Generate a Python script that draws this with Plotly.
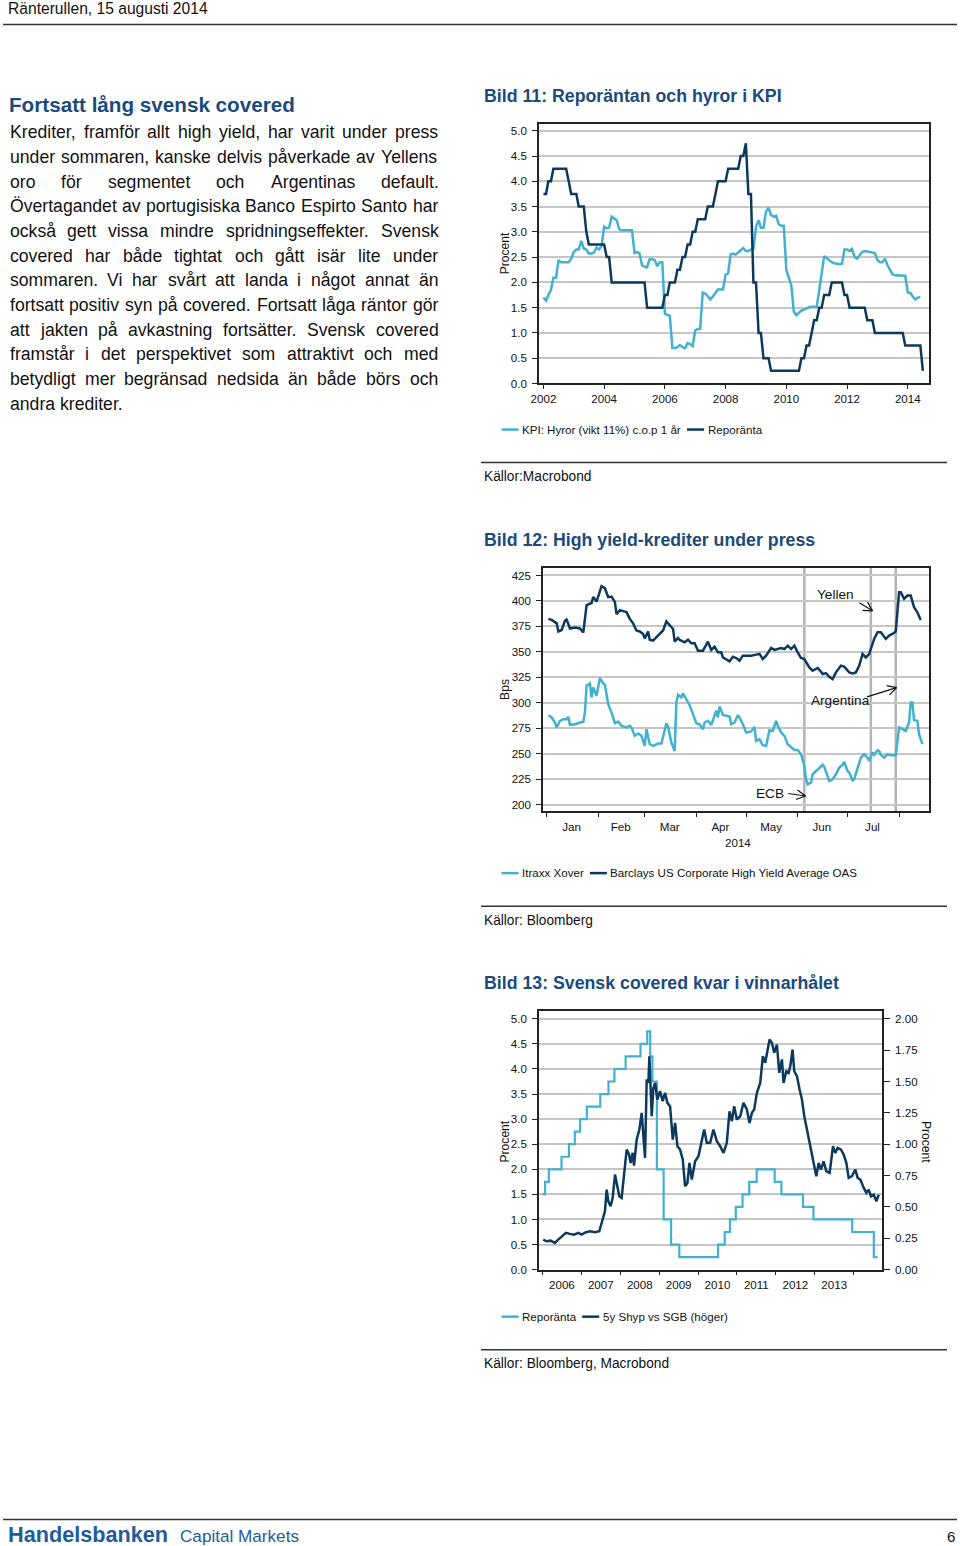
import math
import pandas as pd
import plotly.graph_objects as go

# ---------------- DATA ----------------
# Bild 11 (monthly, Jan 2002 ->)
kpi_hyror = [
    1.70, 1.64, 1.75, 1.85, 2.09, 2.09, 2.44, 2.40, 2.40, 2.40, 2.40, 2.47,
    2.60, 2.65, 2.65, 2.82, 2.67, 2.65, 2.57, 2.57, 2.59, 2.69, 2.65, 2.72,
    3.10, 3.07, 3.08, 3.30, 3.26, 3.23, 3.05, 3.03, 3.03, 3.03, 3.02, 3.03,
    2.58, 2.60, 2.58, 2.34, 2.31, 2.30, 2.46, 2.46, 2.44, 2.32, 2.40, 2.40,
    1.38, 1.36, 1.34, 0.70, 0.70, 0.72, 0.76, 0.72, 0.70, 0.80, 0.78, 0.74,
    1.05, 1.08, 1.08, 1.80, 1.78, 1.73, 1.66, 1.72, 1.80, 1.86, 1.86, 1.86,
    2.15, 2.18, 2.55, 2.57, 2.55, 2.60, 2.65, 2.68, 2.62, 2.62, 2.65, 2.66,
    3.10, 3.23, 3.08, 3.08, 3.40, 3.48, 3.33, 3.30, 3.32, 3.15, 3.12, 3.12,
    2.24, 2.10, 1.95, 1.42, 1.35, 1.40, 1.44, 1.46, 1.49, 1.51, 1.52, 1.52,
    1.52, 1.85, 2.20, 2.52, 2.48, 2.44, 2.40, 2.38, 2.37, 2.36, 2.37, 2.65,
    2.65, 2.62, 2.66, 2.50, 2.47, 2.53, 2.60, 2.62, 2.61, 2.60, 2.60, 2.58,
    2.44, 2.40, 2.40, 2.47, 2.34, 2.24, 2.16, 2.14, 2.14, 2.14, 2.13, 2.13,
    1.80, 1.79, 1.72, 1.66, 1.70, 1.71,
]
reporanta_m = [
    3.75, 3.75, 4.00, 4.00, 4.25, 4.25, 4.25, 4.25, 4.25, 4.25, 4.00, 3.75,
    3.75, 3.75, 3.50, 3.50, 3.50, 3.00, 2.75, 2.75, 2.75, 2.75, 2.75, 2.75,
    2.75, 2.50, 2.50, 2.00, 2.00, 2.00, 2.00, 2.00, 2.00, 2.00, 2.00, 2.00,
    2.00, 2.00, 2.00, 2.00, 2.00, 1.50, 1.50, 1.50, 1.50, 1.50, 1.50, 1.50,
    1.75, 1.75, 2.00, 2.00, 2.00, 2.25, 2.25, 2.50, 2.50, 2.75, 2.75, 3.00,
    3.00, 3.25, 3.25, 3.25, 3.25, 3.50, 3.50, 3.50, 3.75, 4.00, 4.00, 4.00,
    4.00, 4.25, 4.25, 4.25, 4.25, 4.25, 4.50, 4.50, 4.75, 3.75, 3.75, 2.00,
    2.00, 1.00, 1.00, 0.50, 0.50, 0.50, 0.25, 0.25, 0.25, 0.25, 0.25, 0.25,
    0.25, 0.25, 0.25, 0.25, 0.25, 0.25, 0.50, 0.50, 0.75, 0.75, 1.00, 1.25,
    1.25, 1.50, 1.50, 1.75, 1.75, 1.75, 2.00, 2.00, 2.00, 2.00, 2.00, 1.75,
    1.75, 1.50, 1.50, 1.50, 1.50, 1.50, 1.50, 1.50, 1.25, 1.25, 1.25, 1.00,
    1.00, 1.00, 1.00, 1.00, 1.00, 1.00, 1.00, 1.00, 1.00, 1.00, 1.00, 0.75,
    0.75, 0.75, 0.75, 0.75, 0.75, 0.75, 0.25,
]

# Bild 12 (days after 2014-01-01)
itraxx_days = [1, 3, 5, 6, 8, 10, 12, 13, 14, 17, 20, 22, 23, 24, 26, 27, 28, 30, 31, 32, 34, 35, 37, 39,
               41, 43, 45, 48, 50, 51, 53, 55, 57, 59, 60, 62, 64, 67, 69, 72, 73, 75, 77, 78, 79, 81,
               82, 84, 86, 88, 90, 92, 94, 95, 97, 99, 100, 102, 103, 104, 106, 108, 110, 111, 113,
               115, 116, 118, 120, 123, 125, 126, 128, 130, 132, 134, 136, 138, 139, 141, 143, 145,
               147, 149, 151, 153, 155, 156, 157, 159, 160, 162, 164, 166, 167, 168, 170, 172, 174,
               176, 178, 179, 181, 182, 184, 185, 187, 189, 191, 193, 194, 196, 197, 199, 200, 201,
               203, 205, 207, 210, 212, 214, 216, 218, 219, 220, 221, 223, 224, 226]
itraxx_xover = [287.9, 285.6, 280.7, 275.8, 282.3, 284.0, 284.0, 286.3, 278.4, 279.0, 280.7, 281.3,
                290.5, 316.8, 319.0, 305.3, 315.1, 306.9, 315.8, 324.3, 319.0, 317.8, 298.7, 290.5,
                280.0, 281.6, 277.4, 275.8, 277.4, 275.8, 267.6, 269.9, 267.6, 257.7, 274.1, 259.4,
                257.7, 260.0, 260.0, 280.0, 276.8, 261.0, 252.8, 300.4, 308.0, 305.3, 309.2, 303.6,
                297.7, 288.9, 280.0, 279.0, 274.1, 280.7, 282.3, 278.4, 283.3, 292.2, 285.6, 296.4,
                288.2, 287.3, 286.6, 279.0, 280.7, 287.9, 285.6, 279.0, 270.9, 271.9, 276.4, 262.6,
                264.3, 258.4, 257.7, 273.1, 272.4, 282.3, 277.4, 270.9, 267.6, 259.4, 256.7, 253.8,
                253.8, 249.5, 238.0, 225.0, 220.0, 221.9, 229.9, 233.1, 235.8, 239.1, 237.1, 233.1,
                223.3, 225.0, 229.9, 236.4, 239.1, 242.0, 233.1, 231.5, 223.9, 225.0, 236.4, 246.2,
                249.5, 246.2, 243.0, 251.2, 249.0, 253.5, 252.8, 249.0, 246.2, 249.5, 248.5, 248.5,
                275.8, 274.1, 272.4, 280.7, 300.4, 300.4, 283.0, 282.3, 269.3, 259.4]
hy_days = [1, 3, 6, 7, 9, 11, 12, 14, 17, 20, 22, 24, 27, 28, 30, 32, 33, 35, 37, 39, 41, 42, 44, 46,
           48, 50, 52, 54, 56, 58, 59, 61, 62, 64, 66, 68, 70, 72, 74, 76, 77, 79, 80, 83, 85, 87, 89,
           91, 94, 95, 97, 99, 101, 103, 105, 106, 108, 110, 112, 114, 116, 118, 120, 123, 126, 128,
           130, 132, 135, 137, 139, 141, 143, 145, 147, 149, 151, 153, 155, 158, 160, 163, 165, 166,
           168, 170, 172, 174, 177, 179, 182, 184, 186, 188, 190, 192, 194, 195, 197, 199, 201, 204,
           206, 208, 210, 212, 213, 215, 217, 219, 221, 223, 225]
barclays_hy = [382.4, 381.4, 378.0, 370.0, 371.5, 380.7, 381.7, 373.0, 374.0, 373.0, 369.0, 396.0,
               398.0, 404.0, 399.4, 410.0, 414.5, 412.5, 403.7, 404.3, 399.0, 387.0, 391.0, 390.0,
               389.0, 382.4, 378.0, 371.0, 370.0, 367.6, 363.3, 370.0, 362.0, 361.0, 364.3, 367.6,
               371.0, 380.0, 375.8, 372.5, 360.0, 363.7, 361.7, 359.4, 362.0, 358.4, 358.4, 351.2,
               351.2, 353.8, 360.0, 351.9, 355.1, 349.6, 349.6, 344.6, 343.0, 340.7, 345.3, 344.0,
               341.4, 346.3, 346.3, 346.3, 347.3, 348.0, 343.0, 346.3, 353.8, 351.9, 352.8, 353.8,
               352.8, 356.1, 352.8, 356.1, 349.6, 344.0, 343.0, 334.8, 331.5, 334.2, 330.5, 328.2,
               329.2, 325.6, 323.3, 329.9, 336.4, 335.5, 329.9, 328.9, 329.9, 336.4, 347.9, 344.6,
               347.9, 352.8, 362.7, 369.2, 369.2, 362.7, 366.0, 367.6, 370.0, 408.6, 408.6, 402.0,
               405.3, 405.3, 393.8, 388.9, 381.4]
events = ["2014-06-05", "2014-07-15", "2014-07-30"]
month_labels = ["Jan", "Feb", "Mar", "Apr", "May", "Jun", "Jul"]

# Bild 13
repo_dates = ['2006-01-02', '2006-01-25', '2006-03-01', '2006-06-28', '2006-09-06', '2006-10-31',
              '2006-12-20', '2007-02-21', '2007-06-27', '2007-09-12', '2007-11-07', '2008-02-20',
              '2008-07-09', '2008-09-10', '2008-10-08', '2008-10-29', '2008-12-10', '2009-02-11',
              '2009-04-22', '2009-07-08', '2010-07-07', '2010-09-08', '2010-10-27', '2010-12-21',
              '2011-02-22', '2011-04-26', '2011-07-05', '2011-12-21', '2012-02-22', '2012-09-12',
              '2012-12-19', '2013-12-18', '2014-07-09', '2014-08-13']
repo_vals = [1.50, 1.75, 2.00, 2.25, 2.50, 2.75, 3.00, 3.25, 3.50, 3.75, 4.00, 4.25, 4.50, 4.75,
             4.25, 3.75, 2.00, 1.00, 0.50, 0.25, 0.50, 0.75, 1.00, 1.25, 1.50, 1.75, 2.00, 1.75,
             1.50, 1.25, 1.00, 0.75, 0.25, 0.25]
spread_years = [2006.017, 2006.103, 2006.206, 2006.318, 2006.403, 2006.515, 2006.601, 2006.704,
                2006.807, 2006.918, 2007.004, 2007.116, 2007.219, 2007.348, 2007.459, 2007.519,
                2007.605, 2007.648, 2007.691, 2007.751, 2007.803, 2007.863, 2007.906, 2007.974,
                2008.034, 2008.094, 2008.163, 2008.223, 2008.266, 2008.318, 2008.352, 2008.421,
                2008.489, 2008.549, 2008.592, 2008.635, 2008.678, 2008.721, 2008.747, 2008.781,
                2008.807, 2008.850, 2008.893, 2008.953, 2009.021, 2009.090, 2009.150, 2009.210,
                2009.279, 2009.348, 2009.408, 2009.468, 2009.536, 2009.605, 2009.665, 2009.725,
                2009.777, 2009.837, 2009.923, 2010.009, 2010.094, 2010.155, 2010.223, 2010.309,
                2010.395, 2010.481, 2010.567, 2010.652, 2010.738, 2010.807, 2010.867, 2010.927,
                2010.996, 2011.082, 2011.167, 2011.253, 2011.322, 2011.382, 2011.442, 2011.511,
                2011.597, 2011.665, 2011.725, 2011.785, 2011.837, 2011.897, 2011.957, 2012.026,
                2012.086, 2012.155, 2012.197, 2012.266, 2012.326, 2012.369, 2012.429, 2012.472,
                2012.541, 2012.609, 2012.670, 2012.730, 2012.798, 2012.867, 2012.927, 2012.987,
                2013.039, 2013.099, 2013.159, 2013.227, 2013.296, 2013.382, 2013.468, 2013.528,
                2013.588, 2013.674, 2013.742, 2013.811, 2013.871, 2013.957, 2014.043, 2014.103,
                2014.172, 2014.258, 2014.326, 2014.386, 2014.446, 2014.515, 2014.584, 2014.644]
spread_shyp = [0.239, 0.226, 0.231, 0.213, 0.239, 0.271, 0.293, 0.285, 0.279, 0.293, 0.279, 0.298,
               0.306, 0.298, 0.306, 0.372, 0.465, 0.638, 0.545, 0.505, 0.572, 0.758, 0.691, 0.585,
               0.572, 0.758, 0.957, 0.918, 0.851, 0.931, 0.830, 1.037, 1.117, 1.250, 1.090, 0.891,
               1.516, 1.489, 1.702, 1.383, 1.223, 1.449, 1.489, 1.356, 1.423, 1.343, 1.410, 1.330,
               1.303, 1.037, 1.170, 0.984, 0.957, 0.878, 0.665, 0.691, 0.851, 0.718, 0.864, 0.904,
               1.037, 1.117, 1.011, 1.011, 1.117, 1.024, 0.984, 0.931, 1.011, 1.263, 1.184, 1.303,
               1.197, 1.223, 1.330, 1.277, 1.170, 1.250, 1.277, 1.410, 1.489, 1.702, 1.649, 1.755,
               1.835, 1.809, 1.729, 1.795, 1.569, 1.676, 1.489, 1.582, 1.569, 1.622, 1.755, 1.582,
               1.543, 1.436, 1.356, 1.223, 1.117, 1.037, 0.931, 0.851, 0.745, 0.851, 0.798, 0.864,
               0.785, 0.771, 0.984, 0.931, 0.971, 0.957, 0.918, 0.851, 0.731, 0.745, 0.798, 0.731,
               0.718, 0.652, 0.612, 0.638, 0.585, 0.598, 0.545, 0.598]
year_labels = ["2006", "2007", "2008", "2009", "2010", "2011", "2012", "2013"]

# ---------------- HELPERS ----------------
W, H = 960, 1546
FONT = "Liberation Sans, Arial, Helvetica, sans-serif"
DARK = "#0c3a5f"
LIGHT = "#41b1d1"
TITLE = "#1a4b7c"
GRID = "#c6c6c6"
AXC = "#222222"

# the photographed page is offset/scaled slightly; positions below are given in
# target-picture pixels and mapped back to figure coordinates here
SX, SY, OX, OY = 960 / 968, 1546 / 1554, 7.93, 0.0


def X(px):
    return ((px - OX) / SX) / W


def Y(py):
    return 1 - ((py - OY) / SY) / H


def F(s):
    return s / SX


AW = {' ': 278, 'a': 556, 'b': 556, 'c': 500, 'd': 556, 'e': 556, 'f': 278, 'g': 556, 'h': 556,
      'i': 222, 'j': 222, 'k': 500, 'l': 222, 'm': 833, 'n': 556, 'o': 556, 'p': 556, 'q': 556,
      'r': 333, 's': 500, 't': 278, 'u': 556, 'v': 500, 'w': 722, 'x': 500, 'y': 500, 'z': 500,
      'å': 556, 'ä': 556, 'ö': 556, 'A': 667, 'B': 667, 'C': 722, 'D': 722, 'E': 667, 'F': 611,
      'G': 778, 'H': 722, 'I': 278, 'J': 500, 'K': 667, 'L': 556, 'M': 833, 'N': 722, 'O': 778,
      'P': 667, 'Q': 778, 'R': 722, 'S': 667, 'T': 611, 'U': 722, 'V': 667, 'W': 944, 'X': 667,
      'Y': 667, 'Z': 611, 'Ö': 778, 'Å': 667, 'Ä': 667, ',': 278, '.': 278, ':': 278, '%': 889,
      '(': 333, ')': 333, '-': 333}


def tw(s, size):
    return sum(AW.get(c, 556) for c in s) / 1000.0 * size


annotations = []
shapes = []


def text(px, py, s, size, color="#111111", bold=False, xanchor="left", angle=0):
    if bold:
        s = "<b>" + s + "</b>"
    annotations.append(dict(x=X(px), y=Y(py), xref="paper", yref="paper", text=s,
                            showarrow=False, xanchor=xanchor, yanchor="middle",
                            font=dict(size=F(size), color=color, family=FONT),
                            borderpad=0, borderwidth=0, textangle=angle))


def hline(x0, x1, py, color="#333333", width=1.5):
    shapes.append(dict(type="line", xref="paper", yref="paper", x0=X(x0), x1=X(x1),
                       y0=Y(py), y1=Y(py), line=dict(color=color, width=width)))


def seg(x0, y0, x1, y1, color="#111111", width=1.2):
    shapes.append(dict(type="line", xref="paper", yref="paper", x0=X(x0), x1=X(x1),
                       y0=Y(y0), y1=Y(y1), line=dict(color=color, width=width)))


def arrow(x0, y0, x1, y1):
    seg(x0, y0, x1, y1)
    ang = math.atan2(y1 - y0, x1 - x0)
    for s in (1, -1):
        a = ang + math.pi + s * 0.5
        seg(x1, y1, x1 + 10 * math.cos(a), y1 + 10 * math.sin(a))


def legend(py, items):
    x = 501.5
    for label, color in items:
        hline(x, x + 17, py, color=color, width=2.5)
        text(x + 20.5, py, label, 11.5)
        x = x + 20.5 + tw(label, 11.5) + 6.5


# ---------------- PAGE TEXT ----------------
text(8, 8.5, "Ränterullen, 15 augusti 2014", 15.5)
hline(3, 957, 24.5)

text(9, 104, "Fortsatt lång svensk covered", 20.5, color=TITLE, bold=True)
body_lines = [
    "Krediter, framför allt high yield, har varit under press",
    "under sommaren, kanske delvis påverkade av Yellens",
    "oro för segmentet och Argentinas default.",
    "Övertagandet av portugisiska Banco Espirto Santo har",
    "också gett vissa mindre spridningseffekter. Svensk",
    "covered har både tightat och gått isär lite under",
    "sommaren. Vi har svårt att landa i något annat än",
    "fortsatt positiv syn på covered. Fortsatt låga räntor gör",
    "att jakten på avkastning fortsätter. Svensk covered",
    "framstår i det perspektivet som attraktivt och med",
    "betydligt mer begränsad nedsida än både börs och",
    "andra krediter.",
]
BODY = 17.5
L, R = 9.5, 438.0
for i, line in enumerate(body_lines):
    py = 132 + i * 24.64
    if i == len(body_lines) - 1:
        text(L, py, line, BODY)
        continue
    words = line.split(" ")
    wds = [tw(w, BODY) for w in words]
    gap = (R - L - sum(wds)) / (len(words) - 1)
    x = L
    for w, wd in zip(words, wds):
        text(x, py, w, BODY)
        x += wd + gap

# chart titles / legends / sources
text(484, 96, "Bild 11: Reporäntan och hyror i KPI", 17.6, color=TITLE, bold=True)
legend(429, [("KPI: Hyror (vikt 11%) c.o.p 1 år", LIGHT), ("Reporänta", DARK)])
hline(481, 947, 462)
text(484, 476, "Källor:Macrobond", 13.6)

text(484, 539, "Bild 12: High yield-krediter under press", 17.6, color=TITLE, bold=True)
legend(872, [("Itraxx Xover", LIGHT), ("Barclays US Corporate High Yield Average OAS", DARK)])
hline(481, 947, 905)
text(484, 919, "Källor: Bloomberg", 13.6)

text(484, 982, "Bild 13: Svensk covered kvar i vinnarhålet", 17.6, color=TITLE, bold=True)
legend(1315, [("Reporänta", LIGHT), ("5y Shyp vs SGB (höger)", DARK)])
hline(481, 947, 1348)
text(484, 1362, "Källor: Bloomberg, Macrobond", 13.6)

# axis titles
text(505, 253, "Procent", 12, xanchor="center", angle=-90)
text(505, 689, "Bps", 12, xanchor="center", angle=-90)
text(505, 1140, "Procent", 12, xanchor="center", angle=-90)
text(925.5, 1140, "Procent", 12, xanchor="center", angle=90)
text(737.5, 842, "2014", 11.5, xanchor="center")

# chart 2 event annotations
text(835.7, 593.5, "Yellen", 13.5, xanchor="center")
text(840, 700, "Argentina", 13.5, xanchor="center")
text(770, 792, "ECB", 13.5, xanchor="center")
arrow(859.3, 602, 872.5, 610)
arrow(867, 696, 896.5, 686.7)
arrow(788.3, 792.5, 805.5, 795)

# footer
hline(3, 957, 1517.5)
text(8, 1533, "Handelsbanken", 21.5, color="#1f5c99", bold=True)
text(180, 1534.5, "Capital Markets", 17, color="#1f5c99")
text(955, 1535, "6", 15, xanchor="right")

# ---------------- TRACES ----------------
m_dates_kpi = pd.date_range("2002-01-01", periods=len(kpi_hyror), freq="MS")
m_dates_repo = pd.date_range("2002-01-01", periods=len(reporanta_m), freq="MS")
base14 = pd.Timestamp("2014-01-01")
itraxx_x = [(base14 + pd.Timedelta(days=d)).strftime("%Y-%m-%d") for d in itraxx_days]
hy_x = [(base14 + pd.Timedelta(days=d)).strftime("%Y-%m-%d") for d in hy_days]
base06 = pd.Timestamp("2006-01-01")
spread_x = [(base06 + pd.Timedelta(hours=round((yv - 2006) * 365.25 * 24))).strftime("%Y-%m-%d %H:00")
            for yv in spread_years]

fig = go.Figure()
fig.add_trace(go.Scatter(x=m_dates_kpi, y=kpi_hyror, mode="lines", line=dict(color=LIGHT, width=2.5),
                         xaxis="x", yaxis="y", name="KPI: Hyror (vikt 11%) c.o.p 1 år"))
fig.add_trace(go.Scatter(x=m_dates_repo, y=reporanta_m, mode="lines", line=dict(color=DARK, width=2.5),
                         xaxis="x", yaxis="y", name="Reporänta"))
fig.add_trace(go.Scatter(x=itraxx_x, y=itraxx_xover, mode="lines", line=dict(color=LIGHT, width=2.5),
                         xaxis="x2", yaxis="y2", name="Itraxx Xover"))
fig.add_trace(go.Scatter(x=hy_x, y=barclays_hy, mode="lines", line=dict(color=DARK, width=2.5),
                         xaxis="x2", yaxis="y2", name="Barclays US Corporate High Yield Average OAS"))
fig.add_trace(go.Scatter(x=repo_dates, y=repo_vals, mode="lines",
                         line=dict(color=LIGHT, width=2.2, shape="hv"),
                         xaxis="x3", yaxis="y3", name="Reporänta"))
fig.add_trace(go.Scatter(x=spread_x, y=spread_shyp, mode="lines", line=dict(color=DARK, width=2.5),
                         xaxis="x3", yaxis="y4", name="5y Shyp vs SGB (höger)"))

for d in events:
    shapes.append(dict(type="line", xref="x2", yref="y2", x0=d, x1=d, y0=193.8, y1=432.6,
                       line=dict(color="#b3b3b3", width=2.5), layer="below"))

tickfont = dict(size=F(11.5), color="#111111", family=FONT)
common_x = dict(type="date", showline=True, linecolor=AXC, linewidth=1.5, mirror=True,
                showgrid=False, zeroline=False, tickfont=tickfont, tickcolor=AXC)
common_y = dict(showline=True, linecolor=AXC, linewidth=1.5, mirror=True, showgrid=True,
                gridcolor=GRID, gridwidth=1.5, zeroline=False, ticks="outside", ticklen=5,
                tickwidth=1.2, tickcolor=AXC, tickfont=tickfont, ticklabelstandoff=3)

mid_months = ["2014-01-16", "2014-02-14 12:00", "2014-03-16", "2014-04-15 12:00", "2014-05-16",
              "2014-06-15 12:00", "2014-07-16"]
month_starts = ["2014-%02d-01" % m for m in range(1, 9)]
mid_years = ["%d-07-02" % int(y) for y in year_labels]
year_starts = ["%d-01-01" % y for y in range(2006, 2015)]

fig.update_layout(
    width=W, height=H, margin=dict(l=0, r=0, t=0, b=0), autosize=False,
    paper_bgcolor="white", plot_bgcolor="white", showlegend=False,
    font=dict(family=FONT, color="#111111"),
    xaxis=dict(common_x, domain=[X(539), X(929)], range=["2001-11-09", "2014-09-13"], anchor="y",
               dtick="M24", tick0="2002-01-01", tickformat="%Y", ticks="outside", ticklen=4,
               tickwidth=1.2, ticklabelstandoff=0),
    yaxis=dict(common_y, domain=[Y(383), Y(124)], range=[0, 5.13], dtick=0.5, tick0=0,
               tickformat=".1f", anchor="x"),
    xaxis2=dict(common_x, domain=[X(543), X(929)], range=["2013-12-29 19:00", "2014-08-19"],
                anchor="y2", tickmode="array", tickvals=mid_months, ticktext=month_labels,
                ticks="", ticklabelstandoff=4,
                minor=dict(tickmode="array", tickvals=month_starts, ticks="outside", ticklen=4,
                           tickwidth=1.2, tickcolor=AXC, showgrid=False)),
    yaxis2=dict(common_y, domain=[Y(810), Y(567)], range=[193.8, 432.6], dtick=25, tick0=200,
                anchor="x2"),
    xaxis3=dict(common_x, domain=[X(539), X(882)], range=["2005-11-29", "2014-09-24"],
                anchor="y3", tickmode="array", tickvals=mid_years, ticktext=year_labels,
                ticks="", ticklabelstandoff=4,
                minor=dict(tickmode="array", tickvals=year_starts, ticks="outside", ticklen=4,
                           tickwidth=1.2, tickcolor=AXC, showgrid=False)),
    yaxis3=dict(common_y, domain=[Y(1268), Y(1010)], range=[0, 5.15], dtick=0.5, tick0=0,
                tickformat=".1f", anchor="x3", mirror=False),
    yaxis4=dict(showline=True, linecolor=AXC, linewidth=1.5, showgrid=False, zeroline=False,
                overlaying="y3", side="right", anchor="x3", range=[0, 2.06], dtick=0.25, tick0=0,
                tickformat=".2f", ticks="outside", ticklen=6, tickwidth=1.2, tickcolor=AXC,
                tickfont=tickfont, ticklabelstandoff=3),
    annotations=annotations,
    shapes=shapes,
)

POST = ("var h=document.documentElement,b=document.body;"
        "h.style.margin='0';h.style.padding='0';h.style.overflow='hidden';"
        "b.style.margin='0';b.style.padding='0';b.style.overflow='hidden';"
        "var d=document.querySelector('.plotly-graph-div');"
        "d.style.position='absolute';d.style.left='0px';d.style.top='0px';")
fig.write_html("out.html", post_script=POST, config={"displayModeBar": False})
